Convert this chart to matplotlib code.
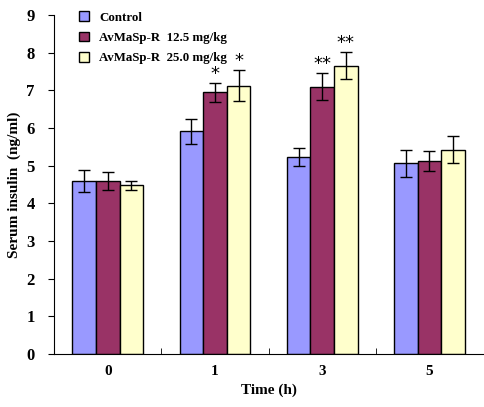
import matplotlib.pyplot as plt
import numpy as np

plt.rcParams['font.family'] = ['Liberation Serif', 'DejaVu Serif']
plt.rcParams['font.weight'] = 'bold'

times = ['0', '1', '3', '5']
labels = ['Control', 'AvMaSp-R  12.5 mg/kg', 'AvMaSp-R  25.0 mg/kg']
control = [4.6, 5.91, 5.22, 5.06]
control_err = [0.3, 0.33, 0.24, 0.37]
low_dose = [4.6, 6.95, 7.1, 5.12]
low_err = [0.24, 0.25, 0.35, 0.26]
high_dose = [4.48, 7.13, 7.65, 5.43]
high_err = [0.12, 0.42, 0.36, 0.36]
low_marks = ['', '*', '**', '']
high_marks = ['', '*', '**', '']

colors = ['#9999FF', '#993366', '#FFFFCC']

fig = plt.figure(figsize=(4.84, 4.07), dpi=100)
ax = fig.add_axes([0.112, 0.130, 0.886, 0.833])

x = np.arange(len(times))
w = 0.22
series = [(control, control_err), (low_dose, low_err), (high_dose, high_err)]
for i, (vals, errs) in enumerate(series):
    ax.bar(x + (i - 1) * w, vals, w, yerr=errs, color=colors[i], edgecolor='black',
           linewidth=1, label=labels[i], capsize=4,
           error_kw=dict(elinewidth=1, capthick=1, ecolor='black'))

# significance stars
for i in range(len(times)):
    if low_marks[i]:
        ax.text(x[i], low_dose[i] + low_err[i] + 0.0, low_marks[i], ha='center', va='bottom',
                fontsize=13, fontweight='normal', family='DejaVu Sans')
    if high_marks[i]:
        ax.text(x[i] + w, high_dose[i] + high_err[i] + 0.0, high_marks[i], ha='center', va='bottom',
                fontsize=13, fontweight='normal', family='DejaVu Sans')

ax.set_xlim(-0.5, 3.5)
ax.set_ylim(0, 9)
ax.set_yticks(range(10))
ax.set_xticks(x)
ax.set_xticklabels(times)
ax.set_xticks([0.5, 1.5, 2.5], minor=True)
ax.tick_params(axis='x', which='major', length=0, labelsize=11, pad=8)
ax.tick_params(axis='x', which='minor', direction='in', length=4)
ax.tick_params(axis='y', direction='out', length=4, labelsize=12, pad=10)
for s in ['top', 'right']:
    ax.spines[s].set_visible(False)

ax.set_xlabel('Time (h)', fontsize=11, fontweight='bold')
ax.set_ylabel('Serum insulin  (ng/ml)', fontsize=11, fontweight='bold')

ax.legend(loc='upper left', bbox_to_anchor=(0.03, 1.045), frameon=False, fontsize=9.3,
          handlelength=0.8, handleheight=0.8, labelspacing=0.6, handletextpad=0.8)

fig.savefig('out.png', dpi=100)
